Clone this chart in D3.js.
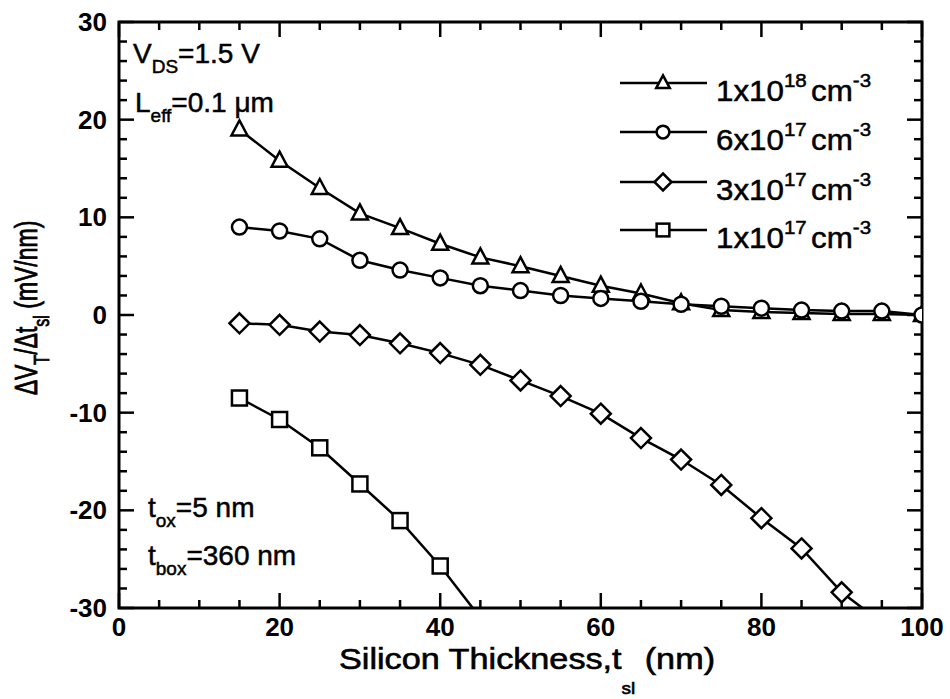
<!DOCTYPE html>
<html>
<head>
<meta charset="utf-8">
<script src="https://cdn.jsdelivr.net/npm/d3@7"></script>
<style>
  body { margin: 0; background: #fff; }
  text { font-family: "Liberation Sans", Arial, sans-serif; fill: #000; }
</style>
</head>
<body>
<div id="root"></div>
<script>
// silicon thickness (nm) for each series
var xFull = [15, 20, 25, 30, 35, 40, 45, 50, 55, 60, 65, 70, 75, 80, 85, 90, 95, 100]
var x3e17 = [15, 20, 25, 30, 35, 40, 45, 50, 55, 60, 65, 70, 75, 80, 85, 90, 95]
var x1e17 = [15, 20, 25, 30, 35, 40, 45]

// dVt/dtsi (mV/nm)
var dop1e18 = [19, 15.8, 13, 10.4, 8.9, 7.3, 5.9, 5, 4, 3, 2.2, 1.2, 0.5, 0.3, 0.2, 0.1, 0.1, 0]
var dop6e17 = [9, 8.6, 7.8, 5.6, 4.6, 3.8, 3, 2.5, 2, 1.7, 1.4, 1.1, 0.9, 0.7, 0.5, 0.4, 0.4, 0]
var dop3e17 = [-0.85, -1.0, -1.7, -2.05, -2.9, -3.9, -5.1, -6.7, -8.3, -10.1, -12.6, -14.8, -17.4, -20.8, -23.9, -28.4, -31.5]
var dop1e17 = [-8.5, -10.7, -13.6, -17.3, -21.05, -25.7, -31]

var xTicks = [0, 20, 40, 60, 80, 100]
var yTicks = [-30, -20, -10, 0, 10, 20, 30]

var legendBase = ["1x10", "6x10", "3x10", "1x10"]
var legendExp = ["18", "17", "17", "17"]

window.onload = function () {
    var width = 950, height = 699
    var left = 119, right = 922, top = 22, bottom = 608

    var svg = d3.select("#root").append("svg")
        .attr("width", width)
        .attr("height", height)

    var x = d3.scaleLinear().domain([0, 100]).range([left, right])
    var y = d3.scaleLinear().domain([-30, 30]).range([bottom, top])

    svg.append("clipPath").attr("id", "clip")
        .append("rect")
        .attr("x", left).attr("y", top)
        .attr("width", right - left).attr("height", bottom - top)

    // ticks (inward, all four sides)
    var ticksG = svg.append("g").attr("stroke", "#000").attr("stroke-width", 2.5)
    d3.range(0, 101, 5).forEach(function (v) {
        var len = v % 20 === 0 ? 15 : 8
        ticksG.append("line").attr("x1", x(v)).attr("x2", x(v)).attr("y1", bottom).attr("y2", bottom - len)
        ticksG.append("line").attr("x1", x(v)).attr("x2", x(v)).attr("y1", top).attr("y2", top + len)
    })
    d3.range(-30, 31, 2).forEach(function (v) {
        var len = v % 10 === 0 ? 15 : 8
        ticksG.append("line").attr("y1", y(v)).attr("y2", y(v)).attr("x1", left).attr("x2", left + len)
        ticksG.append("line").attr("y1", y(v)).attr("y2", y(v)).attr("x1", right).attr("x2", right - len)
    })

    // frame
    svg.append("rect")
        .attr("x", left).attr("y", top)
        .attr("width", right - left).attr("height", bottom - top)
        .attr("fill", "none").attr("stroke", "#000").attr("stroke-width", 3)

    // tick labels
    svg.selectAll(".xl").data(xTicks).enter().append("text")
        .attr("x", function (d) { return x(d) })
        .attr("y", 636)
        .attr("text-anchor", "middle")
        .attr("font-size", 26).attr("font-weight", "bold")
        .text(function (d) { return d })
    svg.selectAll(".yl").data(yTicks).enter().append("text")
        .attr("x", 107)
        .attr("y", function (d) { return y(d) + 9 })
        .attr("text-anchor", "end")
        .attr("font-size", 26).attr("font-weight", "bold")
        .text(function (d) { return d })

    // axis titles
    var xt = svg.append("text")
        .attr("transform", "translate(527,669) scale(1.18,1)")
        .attr("text-anchor", "middle")
        .attr("font-size", 29)
        .attr("stroke", "#000").attr("stroke-width", 0.6)
    xt.append("tspan").text("Silicon Thickness,t")
    xt.append("tspan").attr("dy", 25).attr("font-size", 16).text("sl")
    xt.append("tspan").attr("dy", -25).text(" (nm)")

    var yt = svg.append("text")
        .attr("transform", "translate(37,308) scale(1.35,1) rotate(-90)")
        .attr("text-anchor", "middle")
        .attr("font-size", 23)
        .attr("stroke", "#000").attr("stroke-width", 0.6)
    yt.append("tspan").text("ΔV")
    yt.append("tspan").attr("dy", 9).attr("font-size", 16).text("T")
    yt.append("tspan").attr("dy", -9).text("/Δt")
    yt.append("tspan").attr("dy", 9).attr("font-size", 16).text("sl")
    yt.append("tspan").attr("dy", -9).text(" (mV/nm)")

    // annotations
    function note(px, py, main, sub, rest) {
        var t = svg.append("text").attr("x", px).attr("y", py)
            .attr("font-size", 28).attr("stroke", "#000").attr("stroke-width", 0.5)
        t.append("tspan").text(main)
        t.append("tspan").attr("dy", 10).attr("font-size", 19).text(sub)
        t.append("tspan").attr("dy", -10).text(rest)
    }
    note(133, 63, "V", "DS", "=1.5 V")
    note(135, 112, "L", "eff", "=0.1 μm")
    note(148, 517, "t", "ox", "=5 nm")
    note(148, 565, "t", "box", "=360 nm")

    // markers
    var symbols = {
        tri: function (g, cx, cy, k) {
            k = k || 1
            g.append("path").attr("d", "M" + cx + "," + (cy - 9 * k) + "L" + (cx + 8 * k) + "," + (cy + 6 * k) + "L" + (cx - 8 * k) + "," + (cy + 6 * k) + "Z")
        },
        circ: function (g, cx, cy, k) {
            k = k || 1
            g.append("circle").attr("cx", cx).attr("cy", cy).attr("r", 7.5 * k)
        },
        dia: function (g, cx, cy, k) {
            k = k || 1
            g.append("path").attr("d", "M" + cx + "," + (cy - 10 * k) + "L" + (cx + 10 * k) + "," + cy + "L" + cx + "," + (cy + 10 * k) + "L" + (cx - 10 * k) + "," + cy + "Z")
        },
        sq: function (g, cx, cy, k) {
            k = k || 1
            g.append("rect").attr("x", cx - 7.5 * k).attr("y", cy - 7.5 * k).attr("width", 15 * k).attr("height", 15 * k)
        }
    }

    var series = [
        { xs: xFull, ys: dop1e18, sym: "tri" },
        { xs: xFull, ys: dop6e17, sym: "circ" },
        { xs: x3e17, ys: dop3e17, sym: "dia" },
        { xs: x1e17, ys: dop1e17, sym: "sq" }
    ]

    var line = d3.line()
        .x(function (d) { return x(d[0]) })
        .y(function (d) { return y(d[1]) })

    var plot = svg.append("g").attr("clip-path", "url(#clip)")
    series.forEach(function (s) {
        var pts = s.xs.map(function (v, i) { return [v, s.ys[i]] })
        plot.append("path")
            .attr("d", line(pts))
            .attr("fill", "none").attr("stroke", "#000").attr("stroke-width", 2.5)
        var mg = plot.append("g").attr("fill", "#fff").attr("stroke", "#000").attr("stroke-width", 2.5)
        pts.forEach(function (p) { symbols[s.sym](mg, x(p[0]), y(p[1])) })
    })

    // legend
    var legY = [83, 132, 182, 230]
    series.forEach(function (s, i) {
        var ly = legY[i]
        svg.append("line").attr("x1", 620).attr("x2", 707).attr("y1", ly).attr("y2", ly)
            .attr("stroke", "#000").attr("stroke-width", 2.5)
        var mg = svg.append("g").attr("fill", "#fff").attr("stroke", "#000").attr("stroke-width", 2.5)
        symbols[s.sym](mg, 663, ly, 0.85)
        var t = svg.append("text")
            .attr("transform", "translate(716," + (ly + 18) + ") scale(1.08,1)")
            .attr("font-size", 29).attr("stroke", "#000").attr("stroke-width", 0.5)
        t.append("tspan").text(legendBase[i])
        t.append("tspan").attr("dy", -14).attr("font-size", 19).text(legendExp[i])
        t.append("tspan").attr("dy", 14).attr("dx", 4).text("cm")
        t.append("tspan").attr("dy", -14).attr("font-size", 19).text("-3")
    })
}
</script>
</body>
</html>
